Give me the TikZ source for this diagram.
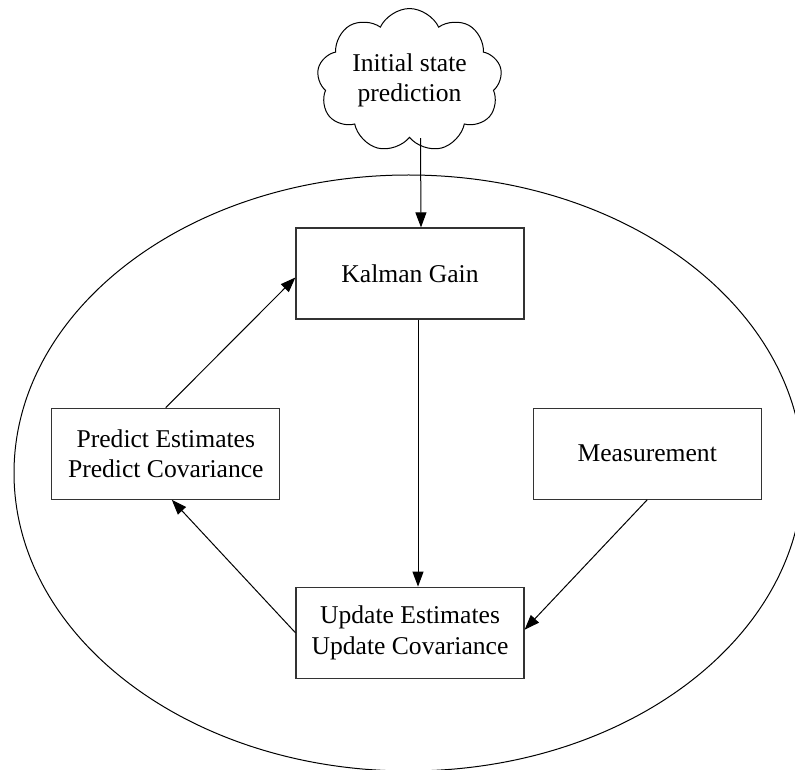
\documentclass[tikz,border=0pt]{standalone}
\usepackage{fontspec}
\setmainfont{Liberation Serif}
\usetikzlibrary{positioning,shapes.symbols,arrows.meta}

\begin{document}
\begin{tikzpicture}[
  x=0.5pt, y=-0.5pt,
  font=\fontsize{12.8}{15.2}\selectfont,
  box/.style={draw=black!80, line width=0.6pt, align=center, minimum width=114pt, minimum height=45.5pt, inner sep=0pt},
  puff/.style={cloud, draw, line width=0.5pt, cloud puffs=9, cloud puff arc=130, aspect=1.4, minimum width=92.5pt, minimum height=67.5pt, align=center, inner sep=0pt},
  arr/.style={-{Triangle[length=7.5pt,width=5.5pt]}, line width=0.5pt},
]
\useasboundingbox (0,0) rectangle (795,769);
\clip (0,0) rectangle (795,769);
\draw[line width=0.5pt] (408.5,473) ellipse [x radius=197.25pt, y radius=149pt];
\node[puff] (init) at (409.5,80.5) {Initial state\\prediction};
\node[box] (kalman) at (410,273.5) {Kalman Gain};
\node[box, below=133.5pt of kalman] (update) {Update Estimates\\Update Covariance};
\node[box, below left=44pt and 7.5pt of kalman] (predict) {Predict Estimates\\Predict Covariance};
\node[box, below right=44pt and 4pt of kalman] (meas) {Measurement};
\draw[arr] ([xshift=5.5pt]init.south) -- ([xshift=5.5pt]kalman.north);
\draw[arr] ([xshift=4pt]kalman.south) -- ([xshift=4pt]update.north);
\draw[arr] (predict.north) -- ([yshift=-2pt]kalman.west);
\draw[arr] (update.west) -- ([xshift=3pt]predict.south);
\draw[arr] (meas.south) -- ([yshift=1.5pt]update.east);
\end{tikzpicture}
\end{document}
